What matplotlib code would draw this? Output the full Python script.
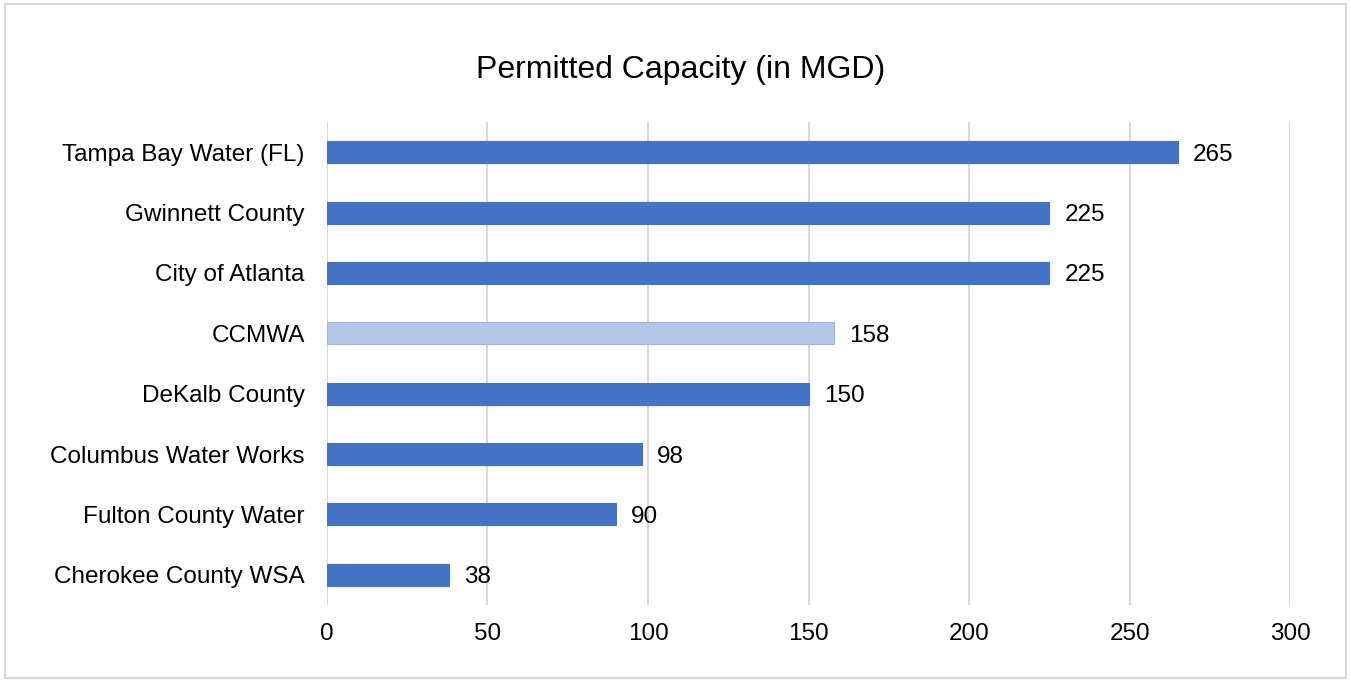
import matplotlib.pyplot as plt
from matplotlib.patches import Rectangle

plt.rcParams['font.family'] = ['Liberation Sans', 'DejaVu Sans']

utilities = ["Tampa Bay Water (FL)", "Gwinnett County", "City of Atlanta", "CCMWA",
             "DeKalb County", "Columbus Water Works", "Fulton County Water", "Cherokee County WSA"]
capacity = [265, 225, 225, 158, 150, 98, 90, 38]
highlight = "CCMWA"
x_ticks = [0, 50, 100, 150, 200, 250, 300]

fig = plt.figure(figsize=(13.51, 6.82), dpi=100)
ax = fig.add_axes([0.242, 0.113, 0.713, 0.708])

ypos = list(range(len(utilities)))[::-1]
colors = ["#B4C7E7" if u == highlight else "#4472C4" for u in utilities]
edges = ["#9DB5E0" if u == highlight else "#4472C4" for u in utilities]
ax.barh(ypos, capacity, height=0.365, color=colors, edgecolor=edges, linewidth=0.8, zorder=3)

for y, v in zip(ypos, capacity):
    ax.annotate(str(v), (v, y), xytext=(11, 0), textcoords="offset points",
                va="center_baseline", ha="left", fontsize=17.5, color="#000000")

ax.set_xlim(0, 300)
ax.set_ylim(-0.5, len(utilities) - 0.5)
ax.set_xticks(x_ticks)
ax.set_yticks(ypos)
ax.set_yticklabels(utilities)
ax.tick_params(axis="both", length=0, labelsize=17.5, colors="#000000")
ax.tick_params(axis="x", pad=13)
ax.tick_params(axis="y", pad=16)
ax.grid(axis="x", color="#D9D9D9", linewidth=1.5, zorder=0)
for s in ax.spines.values():
    s.set_visible(False)

fig.text(0.504, 0.898, "Permitted Capacity (in MGD)", ha="center", va="center", fontsize=23)
fig.patches.append(Rectangle((0.004, 0.006), 0.992, 0.988, transform=fig.transFigure,
                             fill=False, edgecolor="#D9D9D9", linewidth=1.5))

fig.savefig("out.png", dpi=100)
